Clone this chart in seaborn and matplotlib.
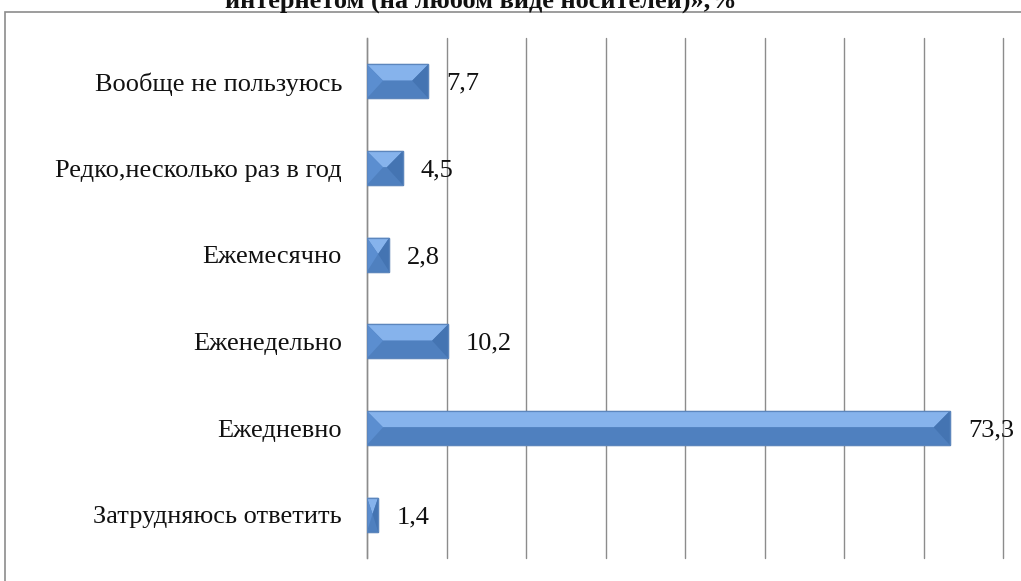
import matplotlib
matplotlib.use("Agg")
import matplotlib.pyplot as plt
import seaborn as sns
import pandas as pd
from matplotlib.patches import Rectangle, Polygon

categories = ["Вообще не пользуюсь", "Редко,несколько раз в год", "Ежемесячно",
              "Еженедельно", "Ежедневно", "Затрудняюсь ответить"]
values = [7.7, 4.5, 2.8, 10.2, 73.3, 1.4]
value_labels = ["7,7", "4,5", "2,8", "10,2", "73,3", "1,4"]
title = "интернетом (на любом виде носителей)»,%"

sns.set_theme(style="white")
plt.rcParams["font.family"] = ["Liberation Serif", "DejaVu Serif"]

df = pd.DataFrame({"cat": categories, "val": values})

fig = plt.figure(figsize=(10.21, 5.81), dpi=100)
ax = fig.add_axes([367 / 1021, 1 - 558 / 581, (1003 - 367) / 1021, (558 - 38) / 581])

sns.barplot(data=df, x="val", y="cat", orient="h", color="#4F81BD",
            saturation=1, width=0.39, ax=ax, zorder=3)

ax.set_xlim(0, 80)
ax.set_ylim(5.5, -0.5)

# bevel shading derived from each bar's own geometry
xpp = 80 / (1003 - 367)            # data units per pixel, x
for p in list(ax.patches):
    x0, y0 = p.get_x(), p.get_y()
    w, h = p.get_width(), p.get_height()
    x1, y1 = x0 + w, y0 + h       # y0 top (inverted axis), y1 bottom
    ym = y0 + h * 0.48
    bx = min(w * 0.5, 16 * xpp)
    p.set_facecolor("#4F80BF")
    p.set_edgecolor("#3E6698")
    p.set_linewidth(0.9)
    ax.add_patch(Polygon([(x0, y0), (x1, y0), (x1 - bx, ym), (x0 + bx, ym)],
                         closed=True, facecolor="#86B3EC", edgecolor="none", zorder=3.1))
    ax.add_patch(Polygon([(x0, y1), (x1, y1), (x1 - bx, ym), (x0 + bx, ym)],
                         closed=True, facecolor="#4F80BF", edgecolor="none", zorder=3.1))
    ax.add_patch(Polygon([(x0, y0), (x0 + bx, ym), (x0, y1)],
                         closed=True, facecolor="#5B8ED0", edgecolor="none", zorder=3.2))
    ax.add_patch(Polygon([(x1, y0), (x1 - bx, ym), (x1, y1)],
                         closed=True, facecolor="#4474B2", edgecolor="none", zorder=3.2))
    ax.add_patch(Rectangle((x0, y0), w, h, fill=False, edgecolor="#5C86BD",
                           linewidth=0.9, zorder=3.3))

ax.set_xticks(range(0, 81, 10))
ax.set_xticklabels([])
ax.tick_params(axis="x", length=0)
ax.xaxis.grid(True, color="#8C8C8C", linewidth=1.0)
for gl in ax.get_xgridlines():
    gl.set_clip_on(False)
ax.set_axisbelow(True)
ax.set_xlabel("")
ax.set_ylabel("")

ax.set_yticks(range(len(categories)))
ax.set_yticklabels(categories, fontsize=19, color="#111111")
ax.tick_params(axis="y", which="major", length=0, pad=18)
ax.set_yticks([i - 0.5 for i in range(len(categories) + 1)], minor=True)
ax.tick_params(axis="y", which="minor", length=8, width=1.0, color="#8C8C8C", direction="out")

for s in ["top", "right", "bottom"]:
    ax.spines[s].set_visible(False)
ax.spines["left"].set_color("#8C8C8C")
ax.spines["left"].set_linewidth(1.0)

for i, (v, lab) in enumerate(zip(values, value_labels)):
    ax.annotate(lab, xy=(v, i), xytext=(13, 0), textcoords="offset points",
                va="center_baseline", ha="left", fontsize=19, color="#111111")

fig.patches.append(Rectangle((5 / 1021, -0.05), 1.05, 1 - 12 / 581 + 0.05,
                             transform=fig.transFigure, fill=False,
                             edgecolor="#8C8C8C", linewidth=1.2))
fig.text(481 / 1021, 1 - 8 / 581, title, ha="center", va="baseline",
         fontsize=19, fontweight="bold", color="#111111")

fig.savefig("out.png", dpi=100)
